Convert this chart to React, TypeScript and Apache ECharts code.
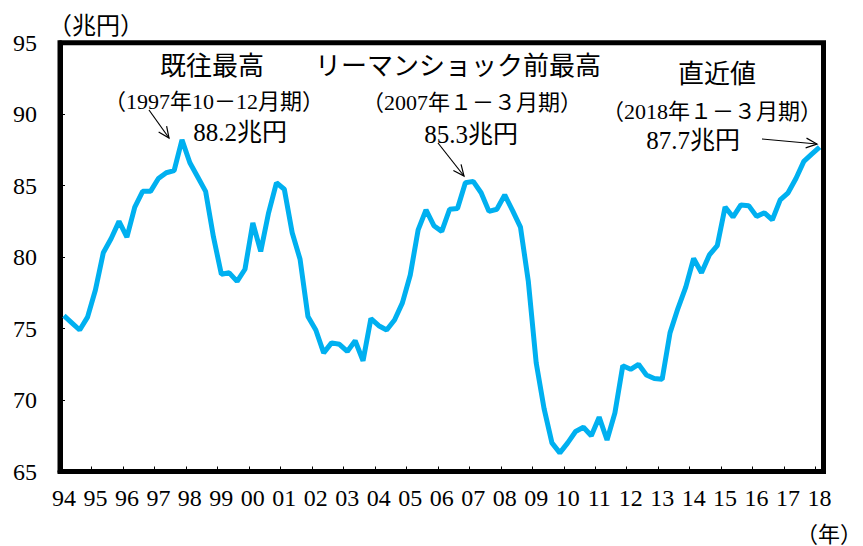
import React, { useEffect, useRef } from "react";
import * as echarts from "echarts";

const years = ["94","95","96","97","98","99","00","01","02","03","04","05","06","07","08","09","10","11","12","13","14","15","16","17","18"];

// Quarterly values, 1994 Q1 – 2018 Q1 (兆円)
const values = [
  75.9, 75.4, 74.9, 75.8,
  77.7, 80.3, 81.3, 82.5,
  81.4, 83.5, 84.6, 84.6,
  85.5, 85.9, 86.05, 88.2,
  86.6, 85.6, 84.6, 81.4,
  78.8, 78.9, 78.3, 79.15,
  82.4, 80.4, 83.1, 85.2,
  84.75, 81.7, 79.85, 75.85,
  74.9, 73.3, 74.0, 73.9,
  73.4, 74.15, 72.75, 75.7,
  75.2, 74.9, 75.6, 76.8,
  78.75, 81.9, 83.3, 82.2,
  81.8, 83.35, 83.4, 85.2,
  85.3, 84.5, 83.2, 83.35,
  84.35, 83.25, 82.1, 78.3,
  72.6, 69.4, 67.0, 66.3,
  67.0, 67.8, 68.1, 67.5,
  68.8, 67.2, 69.1, 72.4,
  72.15, 72.5, 71.75, 71.5,
  71.45, 74.7, 76.4, 77.9,
  79.9, 78.9, 80.15, 80.8,
  83.5, 82.8, 83.65, 83.6,
  82.85, 83.1, 82.6, 84.0,
  84.5, 85.5, 86.7, 87.2,
  87.7,
];

const yMin = 65;
const yMax = 95;
const yStep = 5;

const unitLabel = "（兆円）";
const xUnitLabel = "（年）";
const notes = [
  { title: "既往最高", period: "（1997年10－12月期）", value: "88.2兆円" },
  { title: "リーマンショック前最高", period: "（2007年１－３月期）", value: "85.3兆円" },
  { title: "直近値", period: "（2018年１－３月期）", value: "87.7兆円" },
];

const SERIF = "'Liberation Serif', 'Noto Sans CJK JP', serif";

function arrow(x1: number, y1: number, x2: number, y2: number) {
  const a = Math.atan2(y2 - y1, x2 - x1);
  const L = 12;
  const s = 0.42;
  const p1 = [x2 - L * Math.cos(a - s), y2 - L * Math.sin(a - s)];
  const p2 = [x2 - L * Math.cos(a + s), y2 - L * Math.sin(a + s)];
  return [
    { type: "line", shape: { x1, y1, x2, y2 }, style: { stroke: "#000", lineWidth: 1.2 } },
    { type: "polyline", shape: { points: [p1, [x2, y2], p2] }, style: { stroke: "#000", lineWidth: 1.2, fill: null } },
  ];
}

function txt(text: string, x: number, y: number, size: number, align: string = "center") {
  return {
    type: "text",
    x,
    y,
    style: {
      text,
      fill: "#000",
      font: `${size}px ${SERIF}`,
      textAlign: align,
      textVerticalAlign: "middle",
    },
  };
}

export default function App() {
  const ref = useRef<HTMLDivElement>(null);
  useEffect(() => {
    const chart = echarts.init(ref.current!, null, { renderer: "svg" });
    const categories: string[] = [];
    years.forEach((y, i) => {
      const nq = i === years.length - 1 ? 1 : 4;
      for (let q = 1; q <= nq; q++) categories.push(`${y}-Q${q}`);
    });

    chart.setOption({
      animation: false,
      backgroundColor: "#fff",
      grid: {
        left: 60,
        right: 39.5,
        top: 42.7,
        bottom: 74.5,
        show: true,
        borderColor: "#000",
        borderWidth: 5,
        backgroundColor: "transparent",
      },
      xAxis: {
        type: "category",
        data: categories,
        boundaryGap: true,
        axisLine: { show: true, lineStyle: { color: "#000", width: 5 } },
        axisTick: { show: true, inside: true, length: 5, interval: 3, lineStyle: { color: "#000", width: 1 } },
        axisLabel: {
          interval: 3,
          margin: 14,
          color: "#000",
          fontSize: 24,
          fontFamily: SERIF,
          formatter: (v: string) => v.split("-")[0],
        },
        splitLine: { show: false },
      },
      yAxis: {
        type: "value",
        min: yMin,
        max: yMax,
        interval: yStep,
        axisLine: { show: true, lineStyle: { color: "#000", width: 5 } },
        axisTick: { show: true, inside: true, length: 5, lineStyle: { color: "#000", width: 1 } },
        axisLabel: { margin: 23, color: "#000", fontSize: 24, fontFamily: SERIF },
        splitLine: { show: false },
      },
      series: [
        {
          type: "line",
          data: values,
          symbol: "none",
          lineStyle: { color: "#00B0F0", width: 5 },
          z: 3,
        },
      ],
      graphic: [
        txt(unitLabel, 96, 26, 24),
        txt(xUnitLabel, 862, 534, 22, "right"),
        txt(notes[0].title, 212, 66, 26),
        txt(notes[0].period, 214, 101, 22),
        txt(notes[0].value, 240, 132, 25),
        txt(notes[1].title, 458, 66, 26),
        txt(notes[1].period, 472, 102, 22),
        txt(notes[1].value, 471, 134, 25),
        txt(notes[2].title, 717, 74, 26),
        txt(notes[2].period, 712, 111, 22),
        txt(notes[2].value, 693, 140, 25),
        ...arrow(149, 110, 169, 138),
        ...arrow(438, 143, 464, 176),
        ...arrow(762, 139, 817, 144),
      ],
    });
    return () => chart.dispose();
  }, []);
  return <div ref={ref} style={{ position: "absolute", left: 0, top: 0, width: 863, height: 546 }} />;
}
